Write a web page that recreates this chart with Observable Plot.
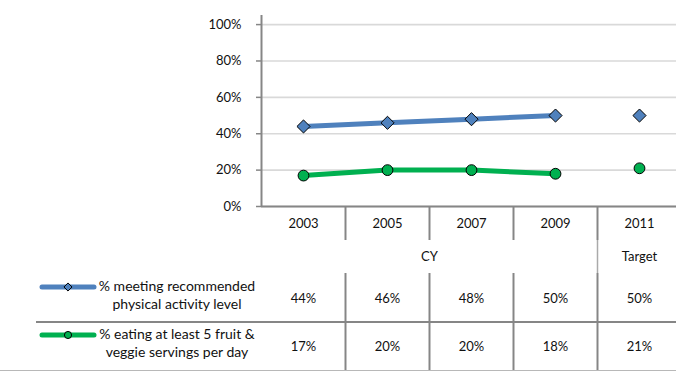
<!DOCTYPE html>
<html><head><meta charset="utf-8">
<script src="https://cdn.jsdelivr.net/npm/d3@7"></script>
<script src="https://cdn.jsdelivr.net/npm/@observablehq/plot@0.6"></script>
<style>
html,body{margin:0;padding:0;background:#fff;}
#chart{position:relative;width:676px;height:370px;overflow:hidden;border-bottom:1px solid #b8b8b8;background:#fff;}
#chart svg{display:block;}
</style></head><body><div id="chart"></div>
<script>
// ---- data ----
const years = ["2003", "2005", "2007", "2009", "2011"];
const periods = ["CY", "CY", "CY", "CY", "Target"];
const activity = [44, 46, 48, 50, 50];
const fruitVeg = [17, 20, 20, 18, 21];
const activityLabel = ["% meeting recommended", "physical activity level"];
const fruitVegLabel = ["% eating at least 5 fruit &", "veggie servings per day"];
const yTicks = [0, 20, 40, 60, 80, 100];

// ---- styles / layout ----
const FONT = "Lato, 'Liberation Sans', sans-serif";
const BLUE = "#4f81bd", GREEN = "#00b050", GRID = "#d9d9d9", AXIS = "#868686";
const W = 676, X_RANGE = [261, 681];
const seriesKeys = ["activity", "fruitVeg"];
const seriesStyle = {
  activity: {color: BLUE, symbol: "diamond2", r: 5.9, label: activityLabel},
  fruitVeg: {color: GREEN, symbol: "circle", r: 5.4, label: fruitVegLabel}
};

const rows = years.map((year, i) => ({
  year, idx: i, period: periods[i], activity: activity[i], fruitVeg: fruitVeg[i]
}));
const xc = d => d.idx + 0.5;
const xScale = {type: "linear", domain: [0, years.length], range: X_RANGE, axis: null};
const style = {fontFamily: FONT, fontSize: "13px", color: "#111", background: "transparent", overflow: "visible"};

// ---- chart ----
const measured = rows.filter(d => d.period === "CY");
const chart = Plot.plot({
  width: W, height: 207, marginTop: 15, marginRight: 0, marginBottom: 1, marginLeft: 261,
  x: xScale,
  y: {domain: [0, 105], axis: null},
  style,
  marks: [
    Plot.gridY(yTicks, {stroke: GRID, strokeOpacity: 1, strokeWidth: 1.6}),
    Plot.axisY(yTicks, {tickFormat: d => d + "%", tickSize: 5, tickPadding: 15, stroke: AXIS, strokeWidth: 1.5}),
    Plot.ruleX([0], {stroke: AXIS, strokeWidth: 2}),
    Plot.ruleY([0], {stroke: AXIS, strokeWidth: 2}),
    ...seriesKeys.flatMap(k => [
      Plot.line(measured, {x: xc, y: k, stroke: seriesStyle[k].color, strokeWidth: 5}),
      Plot.dot(rows, {x: xc, y: k, symbol: seriesStyle[k].symbol, r: seriesStyle[k].r,
        fill: seriesStyle[k].color, stroke: "#000", strokeWidth: 1})
    ])
  ]
});

// ---- header table (years + period groups) ----
const groups = d3.groups(rows, d => d.period).map(([label, ds]) => ({
  label, start: d3.min(ds, d => d.idx), end: d3.max(ds, d => d.idx) + 1
}));
const groupBounds = groups.slice(0, -1).map(g => g.end);
const header = Plot.plot({
  width: W, height: 66, marginTop: 0, marginRight: 0, marginBottom: 0, marginLeft: 261,
  x: xScale,
  y: {type: "band", domain: ["year", "period"], padding: 0, axis: null},
  style,
  marks: [
    Plot.tickX(d3.range(1, years.length), {x: d => d, y: () => "year", stroke: AXIS, strokeWidth: 2}),
    Plot.tickX(groupBounds, {x: d => d, y: () => "period", stroke: AXIS, strokeWidth: 1.5, strokeOpacity: 0.7}),
    Plot.text(rows, {x: xc, y: () => "year", text: "year", fill: "#111"}),
    Plot.text(groups, {x: g => (g.start + g.end) / 2, y: () => "period", text: "label", fill: "#111"})
  ]
});

// ---- data table with legend ----
function legendMark(index, scales, values, dims) {
  const g = d3.create("svg:g");
  const bw = scales.y.bandwidth ? scales.y.bandwidth() : (dims.height - dims.marginTop - dims.marginBottom) / seriesKeys.length;
  seriesKeys.forEach((k, i) => {
    const s = seriesStyle[k];
    const top = scales.y(k);
    const cy = top + bw / 2;
    if (i > 0) {
      g.append("line").attr("x1", 36).attr("x2", W).attr("y1", top).attr("y2", top)
        .attr("stroke", AXIS).attr("stroke-width", 2);
    }
    const ly = cy - 11;
    g.append("line").attr("x1", 42).attr("x2", 94).attr("y1", ly).attr("y2", ly)
      .attr("stroke", s.color).attr("stroke-width", 5).attr("stroke-linecap", "round");
    const sym = s.symbol === "circle" ? d3.symbolCircle : d3.symbolDiamond2;
    g.append("path").attr("d", d3.symbol(sym, s.symbol === "circle" ? 40 : 42)())
      .attr("transform", `translate(68,${ly})`)
      .attr("fill", s.color).attr("stroke", "#000").attr("stroke-width", 1);
    s.label.forEach((t, j) => {
      g.append("text").attr("x", 177).attr("y", ly + j * 18).attr("dy", "0.32em")
        .attr("text-anchor", "middle").attr("fill", "#111").attr("font-size", "14px").text(t);
    });
  });
  return g.node();
}
const table = Plot.plot({
  width: W, height: 97, marginTop: 0, marginRight: 0, marginBottom: 0, marginLeft: 261,
  x: xScale,
  y: {type: "band", domain: seriesKeys, padding: 0, axis: null},
  style,
  marks: [
    Plot.ruleX(d3.range(1, years.length), {stroke: AXIS, strokeWidth: 2}),
    ...seriesKeys.map(k => Plot.text(rows, {x: xc, y: () => k, text: d => d[k] + "%", fill: "#111"})),
    legendMark
  ]
});

const root = document.getElementById("chart");
root.append(chart, header, table);
</script>
</body></html>
